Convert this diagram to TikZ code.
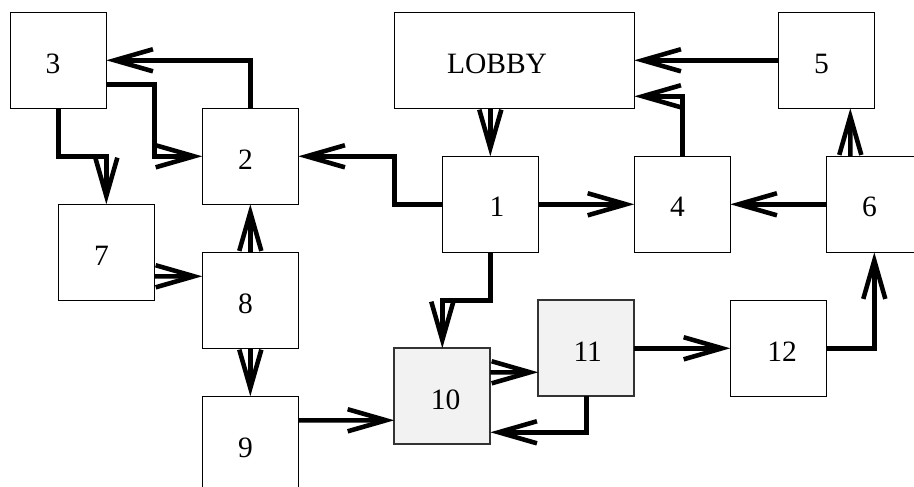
\documentclass[tikz,border=0pt]{standalone}
\usepackage{fontspec}
\setmainfont{Liberation Serif}
\usetikzlibrary{arrows.meta,calc}
\definecolor{boxgray}{HTML}{F2F2F2}
\begin{document}
\begin{tikzpicture}[x=1cm,y=-1cm,
  box/.style={draw,line width=0.6pt,minimum width=2cm,minimum height=2cm,inner sep=0pt,outer sep=0pt},
  graybox/.style={box,fill=boxgray,draw=black!80,line width=1.2pt},
  lbl/.style={font=\fontsize{17.5}{20}\selectfont,inner sep=0pt},
  conn/.style={line width=2.7pt,-{Straight Barb[length=0.8cm,width=0.46cm]}}]
\useasboundingbox (-0.215,-0.256) rectangle (18.827,9.890);
\node[box] (b3) at (1,1) {};
\node[box] (b2) at (5,3) {};
\node[box] (b7) at (2,5) {};
\node[box] (b8) at (5,6) {};
\node[box] (b9) at (5,9) {};
\node[box,minimum width=5cm] (lobby) at (10.5,1) {};
\node[box] (b1) at (10,4) {};
\node[box] (b4) at (14,4) {};
\node[box] (b5) at (17,1) {};
\node[box] (b6) at (18,4) {};
\node[graybox] (b10) at (9,8) {};
\node[graybox] (b11) at (12,7) {};
\node[box] (b12) at (16,7) {};
\node[lbl] (t3) at ($(b3.center)+(-0.11,0.07)$) {3};
\node[lbl] (t2) at ($(b2.center)+(-0.1,0.07)$) {2};
\node[lbl] (t7) at ($(b7.center)+(-0.1,0.07)$) {7};
\node[lbl] (t8) at ($(b8.center)+(-0.1,0.07)$) {8};
\node[lbl] (t9) at ($(b9.center)+(-0.1,0.07)$) {9};
\node[lbl] (tl) at ($(lobby.center)+(-0.36,0.07)$) {LOBBY};
\node[lbl] (t1) at ($(b1.center)+(0.14,0.05)$) {1};
\node[lbl] (t4) at ($(b4.center)+(-0.1,0.05)$) {4};
\node[lbl] (t5) at ($(b5.center)+(-0.1,0.07)$) {5};
\node[lbl] (t6) at ($(b6.center)+(-0.1,0.05)$) {6};
\node[lbl] (t10) at ($(b10.center)+(0.07,0.07)$) {10};
\node[lbl] (t11) at ($(b11.center)+(0.03,0.07)$) {11};
\node[lbl] (t12) at ($(b12.center)+(0.08,0.07)$) {12};
\draw[conn] (b2.north) |- (b3.east);
\draw[conn] ($(b3.east)+(0,0.5)$) -| ($(b2.west)+(-1,0)$) -- (b2.west);
\draw[conn] (b3.south) |- ($(b7.north)+(0,-1)$) -- (b7.north);
\draw[conn] ($(b7.east)+(0,0.5)$) -- ($(b8.west)+(0,-0.5)$);
\draw[conn] (b8.north) -- (b2.south);
\draw[conn] (b8.south) -- (b9.north);
\draw[conn] ($(b9.east)+(0,-0.5)$) -- ($(b10.west)+(0,0.5)$);
\draw[conn] (b1.west) -| (lobby.west |- b2.east) -- (b2.east);
\draw[conn] (b1.north |- lobby.south) -- (b1.north);
\draw[conn] (b1.east) -- (b4.west);
\draw[conn] (b4.north) |- ($(lobby.east)+(0,0.75)$);
\draw[conn] (b5.west) -- (lobby.east);
\draw[conn] ($(b6.north)+(-0.5,0)$) -- ($(b5.south)+(0.5,0)$);
\draw[conn] (b6.west) -- (b4.east);
\draw[conn] (b1.south) |- ($(b10.north)+(0,-1)$) -- (b10.north);
\draw[conn] ($(b10.east)+(0,-0.5)$) -- ($(b11.west)+(0,0.5)$);
\draw[conn] (b11.south) |- ($(b10.east)+(0,0.75)$);
\draw[conn] (b11.east) -- (b12.west);
\draw[conn] (b12.east) -| (b6.south);
\end{tikzpicture}
\end{document}
